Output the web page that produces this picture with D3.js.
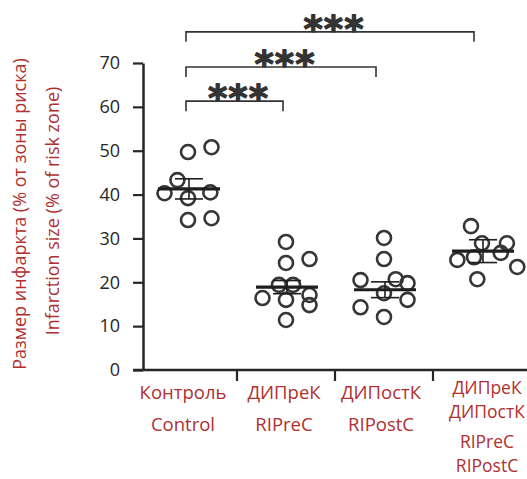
<!DOCTYPE html>
<html>
<head>
<meta charset="utf-8">
<script src="https://cdn.jsdelivr.net/npm/d3@7"></script>
<style>
  body { margin: 0; background: #fff; }
  svg { display: block; }
  text { font-family: 'Open Sans', 'Noto Sans', sans-serif; }
</style>
</head>
<body>
<svg id="chart" width="527" height="479"></svg>
<script>
// groups along the x axis
const groupKeys = ['control', 'ripre', 'ripost', 'both'];
const labelsRu = [['Контроль'], ['ДИПреК'], ['ДИПостК'], ['ДИПреК', 'ДИПостК']];
const labelsEn = [['Control'], ['RIPreC'], ['RIPostC'], ['RIPreC', 'RIPostC']];

// individual animals (infarct size, % of risk zone) and their column slot in the scatter
const controlValues = [49.7, 50.8, 43.3, 40.3, 39.2, 40.5, 34.2, 34.6];
const controlSlots = [0, 1, -0.45, -1, 0, 0.95, 0, 1];
const ripreValues = [29.2, 24.4, 25.3, 19.4, 19.4, 16.4, 16.0, 17.1, 14.8, 11.4];
const ripreSlots = [0, 0, 1, -0.3, 0.3, -1, 0, 1, 1, 0];
const ripostValues = [30.1, 25.3, 20.5, 20.7, 19.8, 17.5, 16.0, 14.3, 12.1];
const ripostSlots = [0, 0, -1, 0.5, 1, 0, 1, -1, 0];
const bothValues = [32.8, 28.9, 28.9, 26.7, 25.7, 25.1, 23.5, 20.7];
const bothSlots = [-0.47, 0, 1.06, 0.8, -0.34, -1.05, 1.5, -0.2];

// mean ± SEM per group
const means = [41.3, 18.9, 18.3, 27.1];
const sems = [2.3, 1.5, 1.8, 2.6];

// significance brackets: from, to, mark, level on the y scale
const comparisons = [
  ['control', 'ripre', '***', 61.3],
  ['control', 'ripost', '***', 69.1],
  ['control', 'both', '***', 77.1],
];

const yTicks = [0, 10, 20, 30, 40, 50, 60, 70];
const yTitle = ['Размер инфаркта (% от зоны риска)', 'Infarction size (% of risk zone)'];

const RED = '#b02f2f';
const INK = '#262626';
const SLOT = 23.5;

const svg = d3.select('#chart');

const x = d3.scaleBand().domain(groupKeys).range([139, 531]).padding(0);
const cx = k => x(k) + x.bandwidth() / 2;
const y = d3.scaleLinear().domain([0, 70]).range([370, 63]);

const points = [
  [controlValues, controlSlots],
  [ripreValues, ripreSlots],
  [ripostValues, ripostSlots],
  [bothValues, bothSlots],
].flatMap(([vals, slots], gi) =>
  vals.map((v, i) => ({ key: groupKeys[gi], value: v, slot: slots[i] })));

// y axis
const yAxis = svg.append('g')
  .attr('transform', 'translate(143,0)')
  .call(d3.axisLeft(y).tickValues(yTicks).tickSize(10).tickSizeOuter(0).tickPadding(13));
yAxis.select('.domain').attr('stroke', INK).attr('stroke-width', 2.5);
yAxis.selectAll('.tick line').attr('stroke', INK).attr('stroke-width', 2.2);
yAxis.selectAll('.tick text')
  .attr('fill', INK)
  .style('font-size', '18px')
  .style('font-family', "'Open Sans', sans-serif");

// x axis line with separators between groups
svg.append('line')
  .attr('x1', 133).attr('x2', 527)
  .attr('y1', y(0)).attr('y2', y(0))
  .attr('stroke', INK).attr('stroke-width', 2.5);

svg.append('g').selectAll('line')
  .data(groupKeys.slice(1))
  .join('line')
  .attr('x1', d => x(d)).attr('x2', d => x(d))
  .attr('y1', y(0)).attr('y2', y(0) + 11)
  .attr('stroke', INK).attr('stroke-width', 2.2);

// x labels; the two-line group is set a touch smaller so its lines keep clear of each other
const labelShift = { control: -5, ripre: -2, ripost: -3, both: 5 };
const xLabels = svg.append('g')
  .attr('fill', RED)
  .attr('text-anchor', 'middle');
groupKeys.forEach((k, i) => {
  const lx = cx(k) + labelShift[k];
  const twoLine = labelsRu[i].length > 1;
  const size = twoLine ? 17.5 : 18.5;
  const step = 24;
  labelsRu[i].forEach((t, j) => {
    xLabels.append('text')
      .attr('x', lx).attr('y', (twoLine ? 394 : 399) + j * step)
      .style('font-size', `${size}px`)
      .text(t);
  });
  labelsEn[i].forEach((t, j) => {
    xLabels.append('text')
      .attr('x', lx).attr('y', (twoLine ? 448 : 431) + j * step)
      .style('font-size', `${size}px`)
      .text(t);
  });
});

// y title (two rotated lines)
svg.append('g')
  .selectAll('text')
  .data(yTitle)
  .join('text')
  .attr('transform', (d, i) => `translate(${26 + i * 33},${i ? 211 : 214}) rotate(-90)`)
  .attr('text-anchor', 'middle')
  .attr('fill', RED)
  .style('font-size', '18px')
  .text(d => d);

// individual points
svg.append('g').selectAll('circle')
  .data(points)
  .join('circle')
  .attr('cx', d => cx(d.key) + d.slot * SLOT)
  .attr('cy', d => y(d.value))
  .attr('r', 7)
  .attr('fill', 'none')
  .attr('stroke', '#363636')
  .attr('stroke-width', 2.6);

// mean and SEM
const stats = svg.append('g').attr('stroke', '#1e1e1e');
groupKeys.forEach((k, i) => {
  const c = cx(k) + 1;
  stats.append('line')
    .attr('x1', c).attr('x2', c)
    .attr('y1', y(means[i] + sems[i])).attr('y2', y(means[i] - sems[i]))
    .attr('stroke-width', 1.6);
  [means[i] + sems[i], means[i] - sems[i]].forEach(v => {
    stats.append('line')
      .attr('x1', c - 14).attr('x2', c + 14)
      .attr('y1', y(v)).attr('y2', y(v))
      .attr('stroke-width', 1.6);
  });
  stats.append('line')
    .attr('x1', c - 31).attr('x2', c + 31)
    .attr('y1', y(means[i])).attr('y2', y(means[i]))
    .attr('stroke-width', 3.2);
});

// significance brackets
const brackets = svg.append('g');
comparisons.forEach(([a, b, mark, level]) => {
  const x1 = cx(a) - 2;
  const x2 = cx(b) - (b === 'ripre' ? 3 : 8);
  const yy = y(level);
  brackets.append('path')
    .attr('d', `M${x1},${yy + 10}V${yy}H${x2}V${yy + 10}`)
    .attr('fill', 'none')
    .attr('stroke', '#333')
    .attr('stroke-width', 1.6);
  brackets.append('text')
    .attr('x', (x1 + x2) / 2 + 4)
    .attr('y', yy + 10)
    .attr('text-anchor', 'middle')
    .attr('fill', '#333')
    .attr('stroke', '#333')
    .attr('stroke-width', 1.2)
    .attr('stroke-linejoin', 'round')
    .style('font-family', "'DejaVu Sans', sans-serif")
    .style('font-weight', 'bold')
    .style('font-size', '37px')
    .style('letter-spacing', '1px')
    .text(mark);
});
</script>
</body>
</html>
